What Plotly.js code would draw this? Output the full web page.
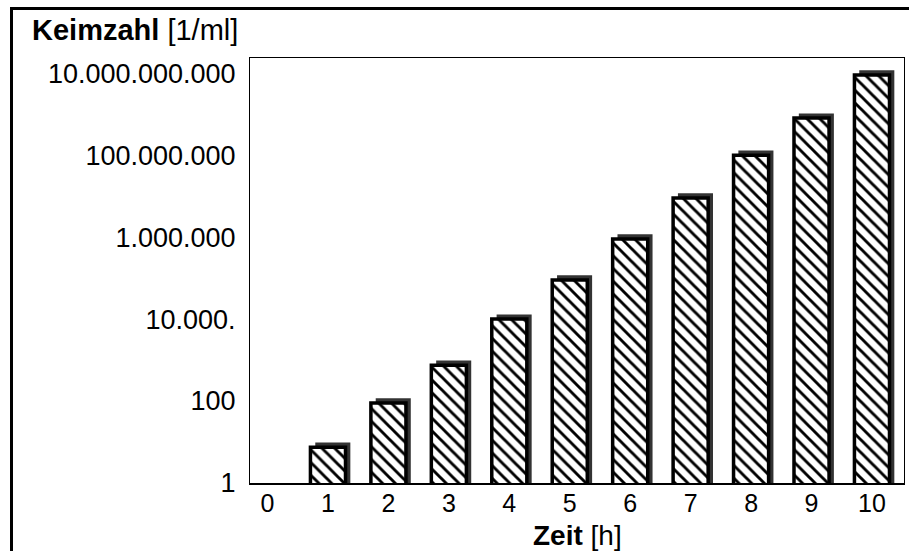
<!DOCTYPE html>
<html>
<head>
<meta charset="utf-8">
<script src="https://cdn.plot.ly/plotly-3.0.1.min.js"></script>
<style>
  html, body { margin: 0; padding: 0; background: #fff; }
  #wrap { position: relative; width: 909px; height: 551px; overflow: hidden; }
  #chart { position: absolute; left: 0; top: 0; width: 909px; height: 551px; }
  #frame { position: absolute; left: 10px; top: 7px; right: -5px; bottom: -5px;
           border-top: 3px solid #000; border-left: 3px solid #000; pointer-events: none; }
</style>
</head>
<body>
<div id="wrap">
  <div id="chart"></div>
  <div id="frame"></div>
</div>
<script>
// Data
const hours = [0, 1, 2, 3, 4, 5, 6, 7, 8, 9, 10];
const counts = [1, 7.5, 90, 750, 1e4, 9e4, 9e5, 9e6, 1e8, 8e8, 9e9];
const xTickText = ['0', '1', '2', '3', '4', '5', '6', '7', '8', '9', '10'];
const yTickVals = [1, 100, 1e4, 1e6, 1e8, 1e10];
const yTickText = ['1', '100', '10.000.', '1.000.000', '100.000.000', '10.000.000.000'];

const FONT = 'Liberation Sans, Arial, Helvetica, sans-serif';
const barW = 0.58;
const shadowFactor = 1.3; // visual drop-shadow raised a few px on the log scale

// a bar of height 1 (the baseline) has no visible body: hide its outline/shadow
const visibleBar = counts.map(v => v > 1);

const shadow = {
  type: 'bar',
  x: hours,
  y: counts.map(v => v * shadowFactor),
  width: barW,
  offset: -barW / 2 + 0.08,
  marker: {
    color: visibleBar.map(b => b ? '#333333' : 'rgba(0,0,0,0)'),
    line: { width: 0 }
  },
  hoverinfo: 'skip',
  showlegend: false
};

const bars = {
  type: 'bar',
  x: hours,
  y: counts,
  width: barW,
  offset: -barW / 2,
  marker: {
    color: '#ffffff',
    line: { color: '#000000', width: visibleBar.map(b => b ? 3.5 : 0) },
    pattern: { shape: '\\', fgcolor: '#000000', bgcolor: '#ffffff', size: 9, solidity: 0.32 }
  },
  showlegend: false
};

const layout = {
  width: 909,
  height: 551,
  paper_bgcolor: '#ffffff',
  plot_bgcolor: '#ffffff',
  barmode: 'overlay',
  margin: { l: 250, r: 5, t: 58, b: 68 },
  font: { family: FONT, color: '#000' },
  xaxis: {
    type: 'linear',
    range: [-0.29, 10.53],
    tickvals: hours,
    ticktext: xTickText,
    ticks: '',
    showgrid: false,
    zeroline: false,
    showline: true,
    linecolor: '#000',
    linewidth: 1.5,
    mirror: true,
    ticklabelstandoff: -3,
    tickfont: { size: 25, family: FONT, color: '#000' }
  },
  yaxis: {
    type: 'log',
    range: [0, 10.37],
    tickvals: yTickVals,
    ticktext: yTickText,
    ticks: '',
    showgrid: false,
    zeroline: false,
    showline: true,
    linecolor: '#000',
    linewidth: 1,
    mirror: true,
    ticklabelstandoff: 8,
    tickfont: { size: 27, family: FONT, color: '#000' }
  },
  annotations: [{
    xref: 'paper', yref: 'paper',
    x: (30 - 250) / 654, y: (483 - 30) / 425,
    xanchor: 'left', yanchor: 'middle',
    showarrow: false,
    text: '<b>Keimzahl</b> [1/ml]',
    font: { size: 29, family: FONT, color: '#000' }
  }, {
    xref: 'paper', yref: 'paper',
    x: 0.5, y: (483 - 535) / 425,
    xanchor: 'center', yanchor: 'middle',
    showarrow: false,
    text: '<b>Zeit</b> [h]',
    font: { size: 28, family: FONT, color: '#000' }
  }]
};

Plotly.newPlot('chart', [shadow, bars], layout, { displayModeBar: false, staticPlot: true });
</script>
</body>
</html>
